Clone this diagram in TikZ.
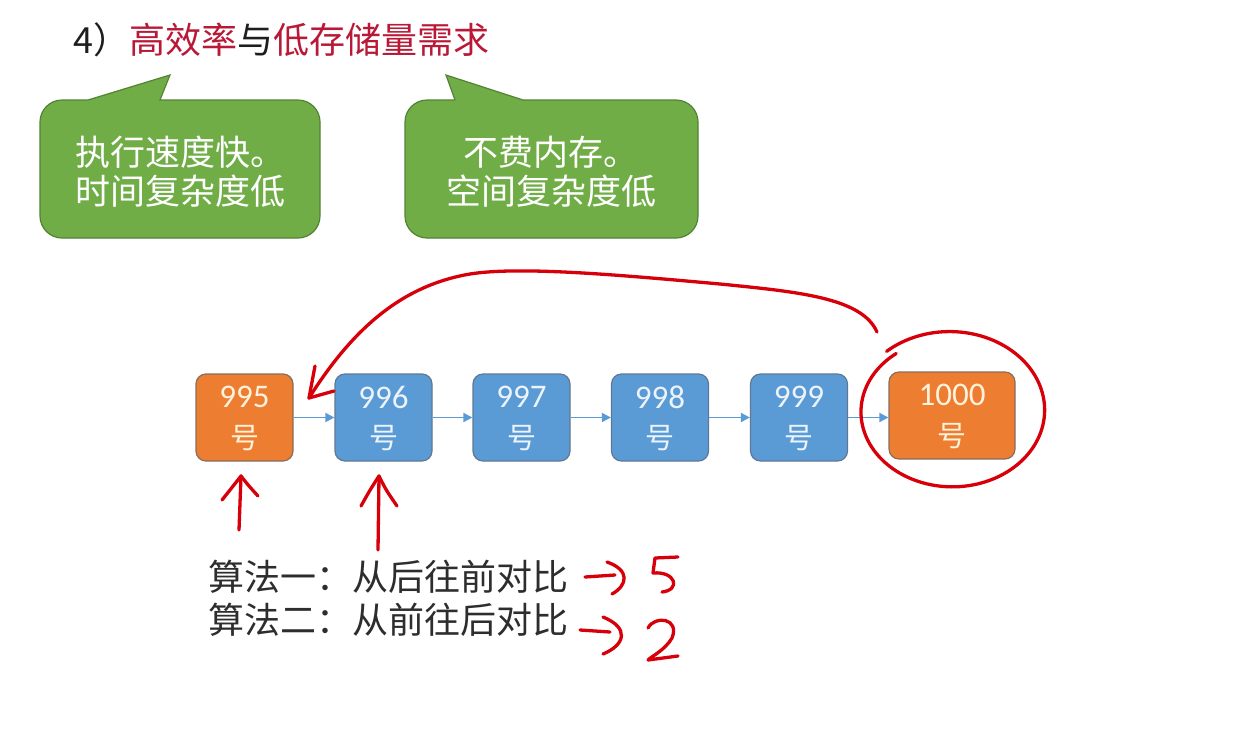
\documentclass[tikz,border=0pt]{standalone}
\usepackage{fontspec}
\setmainfont{Noto Sans CJK SC}
\newfontfamily\numfont{Carlito}
\usetikzlibrary{arrows.meta}
\definecolor{titlered}{RGB}{185,25,55}
\definecolor{titledark}{RGB}{30,30,30}
\definecolor{boxblue}{RGB}{91,155,213}
\definecolor{boxblueline}{RGB}{95,120,150}
\definecolor{boxorange}{RGB}{237,125,49}
\definecolor{boxorangeline}{RGB}{135,110,95}
\definecolor{calloutgreen}{RGB}{112,173,71}
\definecolor{calloutline}{RGB}{84,130,53}
\definecolor{penred}{RGB}{215,0,10}
\definecolor{flowblue}{RGB}{91,155,213}
\definecolor{bodytext}{RGB}{45,45,45}
\definecolor{creamtext}{RGB}{255,242,220}
\definecolor{palebluetext}{RGB}{236,243,250}
\begin{document}
\begin{tikzpicture}[x=1pt,y=-1pt,
  numbox/.style={draw=boxblueline, fill=boxblue, line width=1.2pt, rounded corners=10pt,
    minimum width=97pt, minimum height=87pt, inner sep=0pt},
  hotbox/.style={numbox, draw=boxorangeline, fill=boxorange},
  numlabel/.style={inner sep=0pt, font=\numfont\fontsize{33}{38}\selectfont},
  haolabel/.style={inner sep=0pt, font=\fontsize{29}{34}\selectfont},
  flow/.style={draw=flowblue, line width=1.9pt, -{Triangle[length=9pt,width=9pt]}},
  callout/.style={draw=calloutline, fill=calloutgreen, line width=1.2pt},
  callouttext/.style={text=white, align=center, inner sep=0pt, font=\fontsize{35}{39}\selectfont},
  bodyline/.style={text=bodytext, anchor=west, inner sep=0pt, font=\fontsize{36}{40}\selectfont},
  redpen/.style={draw=penred, line width=3.3pt, line cap=round, line join=round}
]
\useasboundingbox (0,0) rectangle (1236,734);
\fill[white] (0,0) rectangle (1236,734);

% title
\node[anchor=west, inner sep=0pt, text=titledark, font=\fontsize{36}{40}\selectfont] (title) at (73,40)
  {4）\textcolor{titlered}{高效率}与\textcolor{titlered}{低存储量需求}};

% callouts
\draw[callout] (88,100) -- (170,75) -- (160,100) [rounded corners=22pt] -- (320,100) -- (320,238) -- (40,238) -- (40,100) -- (88,100);
\draw[callout] (455,100) -- (446,75) -- (523,100) [rounded corners=22pt] -- (698,100) -- (698,238) -- (405,238) -- (405,100) -- (455,100);
\node[callouttext] (c1text) at (180,172) {执行速度快。\\时间复杂度低};
\node[callouttext] (c2text) at (551,172) {不费内存。\\空间复杂度低};

% boxes
\node[hotbox] (b1) at (244.5,417.5) {};
\node[numbox] (b2) at (383.5,417.5) {};
\node[numbox] (b3) at (521.5,417.5) {};
\node[numbox] (b4) at (660,417.5) {};
\node[numbox] (b5) at (799,417.5) {};
\node[hotbox, minimum width=126pt] (b6) at (952,415.5) {};
\foreach \i/\x/\y/\t/\c in {1/244.5/397/995/creamtext, 2/383.5/397/996/palebluetext, 3/521.5/397/997/palebluetext, 4/660/397/998/palebluetext, 5/799/397/999/palebluetext, 6/952/395/1000/creamtext}{
  \node[numlabel, text=\c] (n\i) at (\x,\y) {\t};
  \node[haolabel, text=\c] (h\i) at (\x,\y+41) {号};
}
\foreach \i/\j in {1/2,2/3,3/4,4/5,5/6}
  \draw[flow] (b\i.east) -- (b\j.west |- b\i.east);

% bottom text
\node[bodyline] (alg1) at (208,577) {算法一：从后往前对比};
\node[bodyline] (alg2) at (208,620) {算法二：从前往后对比};

% red hand annotations
\coordinate (curvestart) at (877,332);
\coordinate (curveend) at (309,398);
\draw[redpen] (curvestart) .. controls (862,298) and (800,292) .. (720,284)
  .. controls (620,275) and (520,266) .. (470,274)
  .. controls (405,285) and (355,325) .. (curveend);
\draw[redpen] (315,366) -- (curveend) -- (334,391);

\draw[redpen] plot[smooth, domain=128:492, samples=70]
  ({951+(89+0.02*(\x-128))*cos(\x)}, {411-(73+0.02*(\x-128))*sin(\x)});

\coordinate (up1) at (241,476);
\draw[redpen] (239,530) -- (up1);
\draw[redpen] (222,500) .. controls (230,490) .. (up1) .. controls (248,485) .. (258,496);
\coordinate (up2) at (379,476);
\draw[redpen] (378,550) -- (up2);
\draw[redpen] (361,506) .. controls (370,490) .. (up2) .. controls (386,490) .. (397,506);

\draw[redpen] (585,577) -- (615,575);
\draw[redpen] (607,562) .. controls (630,570) and (628,585) .. (612,594);
\draw[redpen] (678,557) -- (655,558) -- (653,573) .. controls (676,571) and (681,590) .. (662,592);

\draw[redpen] (580,630) -- (610,632);
\draw[redpen] (603,617) .. controls (630,628) and (625,645) .. (603,654);
\draw[redpen] (648,628) .. controls (655,615) and (680,618) .. (672,638)
  .. controls (665,650) and (652,656) .. (648,660) -- (678,656);
\end{tikzpicture}
\end{document}
